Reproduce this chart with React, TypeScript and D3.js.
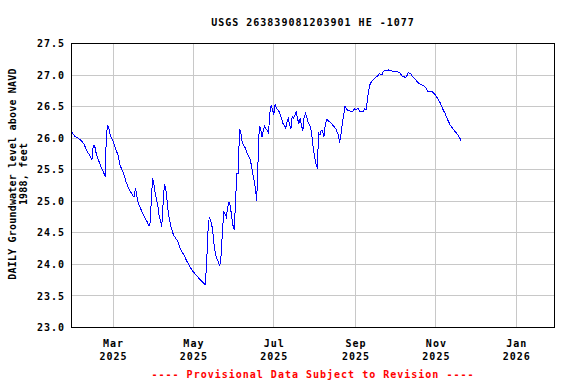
import React from "react";
import * as d3 from "d3";

const chartTitle = "USGS 263839081203901 HE -1077";
const yLabelLines = ["DAILY Groundwater level above NAVD", "1988, feet"];
const footerText = "---- Provisional Data Subject to Revision ----";
const yTicks = [23.0, 23.5, 24.0, 24.5, 25.0, 25.5, 26.0, 26.5, 27.0, 27.5];
const xDomain = ["2025-01-28T12:00", "2026-01-30T00:00"];

const dailyLevels: [string, number][] = [
  ["2025-01-29", 26.09], ["2025-01-31", 26.03], ["2025-02-04", 25.98], ["2025-02-07", 25.91],
  ["2025-02-09", 25.8], ["2025-02-11", 25.74], ["2025-02-13", 25.66], ["2025-02-14", 25.88],
  ["2025-02-15", 25.89], ["2025-02-16", 25.78], ["2025-02-18", 25.65], ["2025-02-20", 25.54],
  ["2025-02-22", 25.45], ["2025-02-23", 25.39], ["2025-02-24", 26.07], ["2025-02-25", 26.21],
  ["2025-02-26", 26.15], ["2025-02-27", 26.04], ["2025-03-01", 25.95], ["2025-03-03", 25.83],
  ["2025-03-05", 25.72], ["2025-03-06", 25.59], ["2025-03-08", 25.49], ["2025-03-10", 25.38],
  ["2025-03-11", 25.3], ["2025-03-13", 25.2], ["2025-03-16", 25.09], ["2025-03-17", 25.07],
  ["2025-03-18", 25.21], ["2025-03-19", 25.09], ["2025-03-20", 24.98], ["2025-03-22", 24.88],
  ["2025-03-24", 24.79], ["2025-03-27", 24.67], ["2025-03-28", 24.61], ["2025-03-29", 24.62],
  ["2025-03-30", 24.99], ["2025-03-31", 25.36], ["2025-04-01", 25.28], ["2025-04-02", 25.12],
  ["2025-04-04", 24.93], ["2025-04-05", 24.77], ["2025-04-06", 24.69], ["2025-04-07", 24.6],
  ["2025-04-08", 24.96], ["2025-04-09", 25.28], ["2025-04-10", 25.2], ["2025-04-11", 25.01],
  ["2025-04-12", 24.8], ["2025-04-14", 24.59], ["2025-04-16", 24.46], ["2025-04-19", 24.37],
  ["2025-04-21", 24.25], ["2025-04-24", 24.14], ["2025-04-26", 24.05], ["2025-04-29", 23.94],
  ["2025-05-01", 23.88], ["2025-05-04", 23.81], ["2025-05-06", 23.76], ["2025-05-09", 23.7],
  ["2025-05-10", 23.68], ["2025-05-11", 24.0], ["2025-05-12", 24.5], ["2025-05-13", 24.75],
  ["2025-05-14", 24.7], ["2025-05-15", 24.62], ["2025-05-16", 24.46], ["2025-05-17", 24.25],
  ["2025-05-18", 24.14], ["2025-05-20", 24.03], ["2025-05-21", 23.98], ["2025-05-22", 24.14],
  ["2025-05-23", 24.51], ["2025-05-24", 24.83], ["2025-05-25", 24.8], ["2025-05-26", 24.75],
  ["2025-05-27", 24.91], ["2025-05-28", 24.99], ["2025-05-29", 24.92], ["2025-05-30", 24.77],
  ["2025-05-31", 24.62], ["2025-06-01", 24.55], ["2025-06-02", 25.01], ["2025-06-03", 25.44],
  ["2025-06-04", 25.44], ["2025-06-05", 26.15], ["2025-06-06", 26.09], ["2025-06-07", 25.94],
  ["2025-06-08", 25.88], ["2025-06-09", 25.86], ["2025-06-11", 25.75], ["2025-06-13", 25.67],
  ["2025-06-14", 25.57], ["2025-06-15", 25.44], ["2025-06-16", 25.33], ["2025-06-17", 25.22],
  ["2025-06-18", 25.01], ["2025-06-19", 25.6], ["2025-06-20", 26.19], ["2025-06-21", 26.15],
  ["2025-06-22", 26.02], ["2025-06-23", 26.12], ["2025-06-24", 26.19], ["2025-06-25", 26.15],
  ["2025-06-26", 26.12], ["2025-06-27", 26.08], ["2025-06-28", 26.4], ["2025-06-29", 26.52],
  ["2025-06-30", 26.46], ["2025-07-01", 26.37], ["2025-07-02", 26.53], ["2025-07-03", 26.48],
  ["2025-07-05", 26.42], ["2025-07-06", 26.36], ["2025-07-07", 26.3], ["2025-07-08", 26.23],
  ["2025-07-10", 26.16], ["2025-07-11", 26.25], ["2025-07-12", 26.31], ["2025-07-13", 26.21],
  ["2025-07-14", 26.15], ["2025-07-15", 26.35], ["2025-07-16", 26.32], ["2025-07-17", 26.36],
  ["2025-07-18", 26.42], ["2025-07-19", 26.31], ["2025-07-20", 26.23], ["2025-07-21", 26.31],
  ["2025-07-22", 26.21], ["2025-07-23", 26.11], ["2025-07-24", 26.33], ["2025-07-25", 26.39],
  ["2025-07-26", 26.33], ["2025-07-27", 26.25], ["2025-07-29", 26.17], ["2025-07-30", 26.02],
  ["2025-07-31", 25.83], ["2025-08-01", 25.7], ["2025-08-02", 25.6], ["2025-08-03", 25.52],
  ["2025-08-04", 26.08], ["2025-08-05", 26.05], ["2025-08-06", 26.13], ["2025-08-07", 26.11],
  ["2025-08-08", 26.02], ["2025-08-09", 26.2], ["2025-08-10", 26.3], ["2025-08-11", 26.28],
  ["2025-08-13", 26.25], ["2025-08-15", 26.2], ["2025-08-17", 26.15], ["2025-08-19", 26.05],
  ["2025-08-20", 25.93], ["2025-08-21", 26.07], ["2025-08-22", 26.23], ["2025-08-23", 26.36],
  ["2025-08-24", 26.51], ["2025-08-25", 26.47], ["2025-08-26", 26.44], ["2025-08-28", 26.43],
  ["2025-08-30", 26.42], ["2025-08-31", 26.47], ["2025-09-01", 26.45], ["2025-09-03", 26.47],
  ["2025-09-04", 26.43], ["2025-09-05", 26.42], ["2025-09-07", 26.43], ["2025-09-08", 26.47],
  ["2025-09-09", 26.45], ["2025-09-10", 26.6], ["2025-09-11", 26.76], ["2025-09-12", 26.85],
  ["2025-09-13", 26.89], ["2025-09-14", 26.92], ["2025-09-16", 26.96], ["2025-09-18", 26.99],
  ["2025-09-19", 27.02], ["2025-09-21", 27.0], ["2025-09-22", 27.06], ["2025-09-24", 27.07],
  ["2025-09-26", 27.08], ["2025-09-28", 27.07], ["2025-09-30", 27.05], ["2025-10-03", 27.05],
  ["2025-10-05", 27.03], ["2025-10-06", 26.99], ["2025-10-08", 26.97], ["2025-10-09", 26.96],
  ["2025-10-10", 26.99], ["2025-10-11", 27.04], ["2025-10-13", 27.02], ["2025-10-14", 26.98],
  ["2025-10-16", 26.94], ["2025-10-19", 26.87], ["2025-10-21", 26.85], ["2025-10-24", 26.81],
  ["2025-10-26", 26.74], ["2025-10-29", 26.74], ["2025-10-31", 26.7], ["2025-11-02", 26.64],
  ["2025-11-04", 26.57], ["2025-11-06", 26.47], ["2025-11-08", 26.39], ["2025-11-10", 26.29],
  ["2025-11-12", 26.2], ["2025-11-15", 26.12], ["2025-11-17", 26.07], ["2025-11-19", 26.01],
  ["2025-11-20", 25.96],
];

const W = 576;
const H = 384;
const left = 71.5;
const right = 554.5;
const top = 43.5;
const bottom = 327.5;
const FONT = "'DejaVu Sans Mono', monospace";

export default function App() {
  const parseDay = d3.timeParse("%Y-%m-%d");
  const parseDT = d3.timeParse("%Y-%m-%dT%H:%M");
  const x = d3
    .scaleTime()
    .domain(xDomain.map((s) => parseDT(s) as Date))
    .range([left, right]);
  const y = d3.scaleLinear().domain([23, 27.5]).range([bottom, top]);
  const xTicks = x.ticks(d3.timeMonth.every(2) as any);
  const fmtMonth = d3.timeFormat("%b");
  const fmtYear = d3.timeFormat("%Y");
  const line = d3
    .line<[string, number]>()
    .x((d) => x(parseDay(d[0]) as Date))
    .y((d) => y(d[1]));
  const snap = (v: number) => Math.round(v - 0.5) + 0.5;

  return (
    <svg
      width={W}
      height={H}
      style={{ position: "absolute", left: 0, top: 0, background: "#fff" }}
      fontFamily={FONT}
      fontWeight="bold"
    >
      <rect x={0} y={0} width={W} height={H} fill="#fff" />
      <text x={(left + right) / 2} y={26} textAnchor="middle" fontSize={10} letterSpacing={1} fill="#000">
        {chartTitle}
      </text>
      {yTicks.map((t) => (
        <line key={"gy" + t} x1={left} x2={right} y1={snap(y(t))} y2={snap(y(t))} stroke="#c8c8c8" strokeWidth={1} />
      ))}
      {xTicks.map((t) => (
        <line key={"gx" + t.getTime()} x1={snap(x(t))} x2={snap(x(t))} y1={top} y2={bottom} stroke="#c8c8c8" strokeWidth={1} />
      ))}
      <rect x={left} y={top} width={right - left} height={bottom - top} fill="none" stroke="#000" strokeWidth={1} />
      <path d={line(dailyLevels) || ""} fill="none" stroke="#0000ff" strokeWidth={1} shapeRendering="crispEdges" />
      {yTicks.map((t) => (
        <text key={"ly" + t} x={65} y={y(t) + 3.6} textAnchor="end" fontSize={10} letterSpacing={1} fill="#000">
          {d3.format(".1f")(t)}
        </text>
      ))}
      {xTicks.map((t) => (
        <g key={"lx" + t.getTime()}>
          <text x={x(t) + 0.5} y={346.7} textAnchor="middle" fontSize={10} letterSpacing={1} fill="#000">
            {fmtMonth(t)}
          </text>
          <text x={x(t) + 0.5} y={360} textAnchor="middle" fontSize={10} letterSpacing={1} fill="#000">
            {fmtYear(t)}
          </text>
        </g>
      ))}
      <text x={16} y={174} transform="rotate(-90 16 174)" textAnchor="middle" fontSize={10} letterSpacing={0.2} fill="#000">
        {yLabelLines[0]}
      </text>
      <text x={27} y={174} transform="rotate(-90 27 174)" textAnchor="middle" fontSize={10} letterSpacing={0.2} fill="#000">
        {yLabelLines[1]}
      </text>
      <text x={(left + right) / 2} y={378} textAnchor="middle" fontSize={10} letterSpacing={1} fill="#ff0000">
        {footerText}
      </text>
    </svg>
  );
}
